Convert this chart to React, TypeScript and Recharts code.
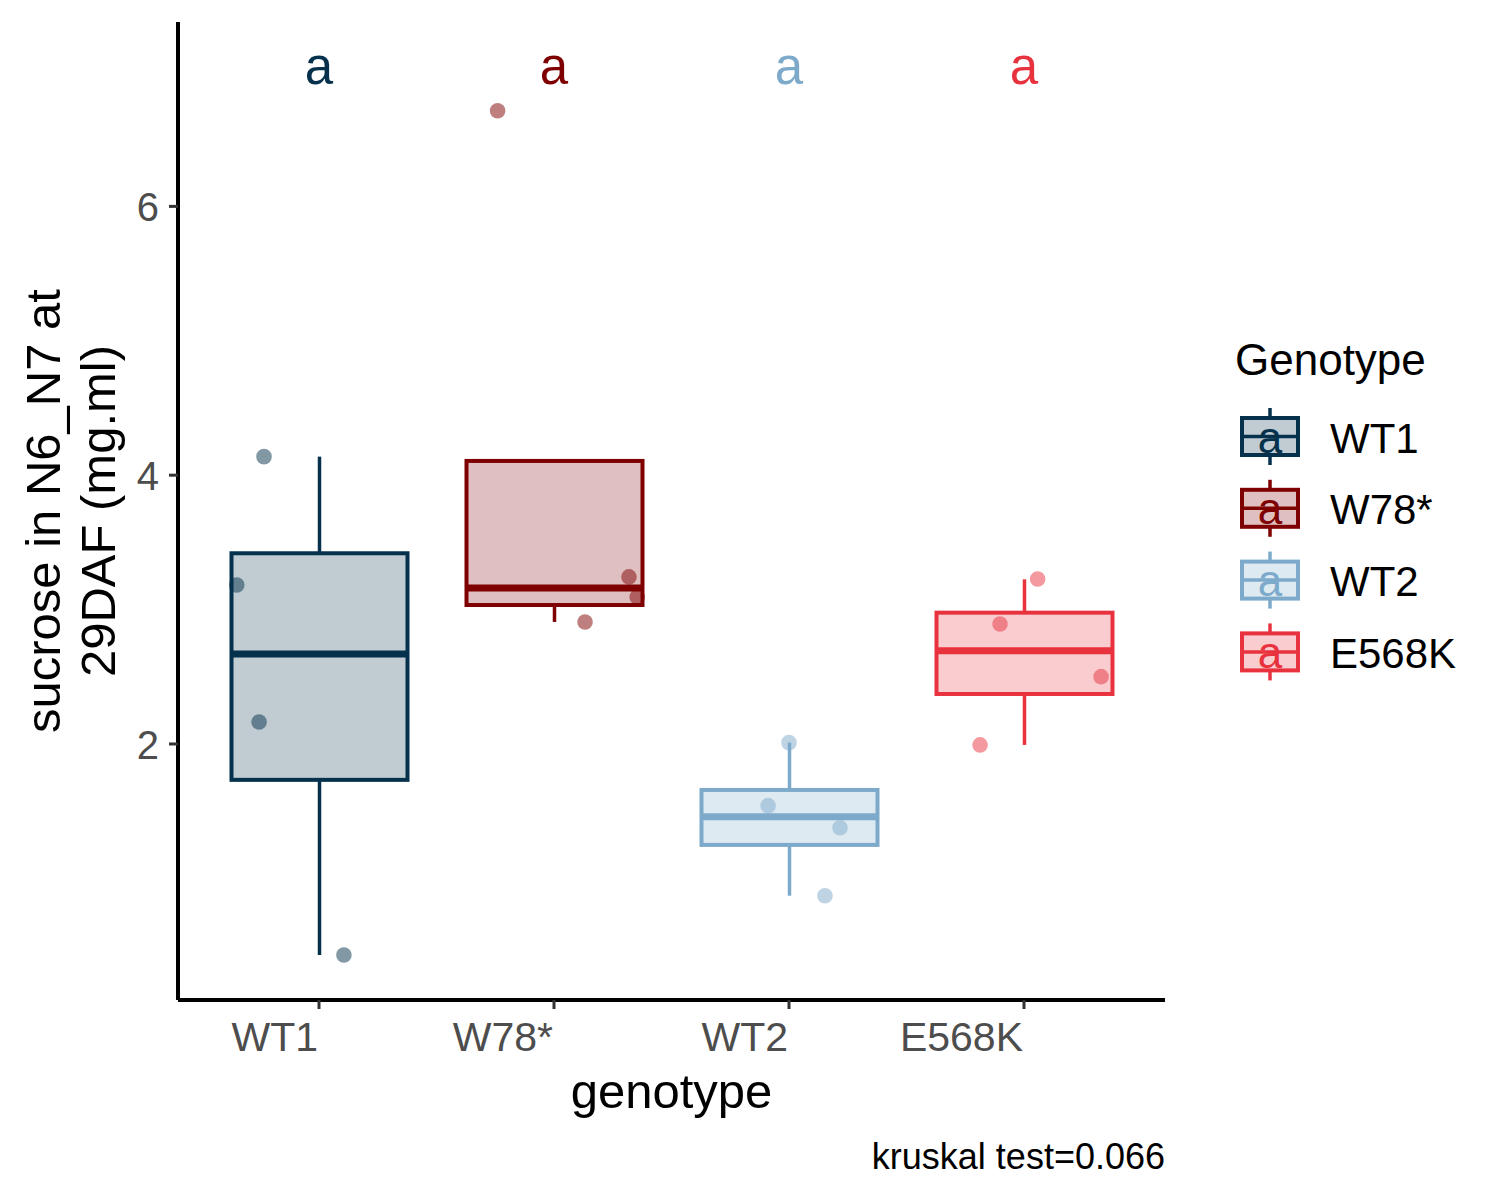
import React from 'react';
import { ComposedChart, Bar, Scatter, XAxis, YAxis } from 'recharts';

// genotype groups, in plotting order
const GENOTYPES = ['WT1', 'W78*', 'WT2', 'E568K'];
const COLORS = ['#05314C', '#7F0000', '#7DAACB', '#E8333F'];
const LETTERS = ['a', 'a', 'a', 'a'];
const LETTER_Y = 7.04;

// box statistics
const WHISKER_LOW = [0.43, 2.908, 0.871, 1.993];
const Q1 = [1.733, 3.034, 1.249, 2.372];
const MEDIAN = [2.67, 3.161, 1.459, 2.694];
const Q3 = [3.419, 4.106, 1.658, 2.977];
const WHISKER_HIGH = [4.138, 4.106, 2.01, 3.225];

// raw points + their horizontal jitter (in category units)
const POINT_VALUES = [
  [4.138, 3.183, 2.164, 0.43],
  [6.712, 3.243, 3.094, 2.908],
  [2.01, 1.541, 1.377, 0.871],
  [3.228, 2.893, 2.501, 1.993],
];
const POINT_JITTER = [
  [-0.234, -0.35, -0.255, 0.106],
  [-0.24, 0.319, 0.354, 0.132],
  [0.0, -0.089, 0.217, 0.153],
  [0.058, -0.102, 0.328, -0.187],
];

const Y_DOMAIN = [0.095, 7.372];
const Y_TICKS = [2, 4, 6];
const Y_TITLE = ['sucrose in N6_N7 at', '29DAF (mg.ml)'];
const X_TITLE = 'genotype';
const LEGEND_TITLE = 'Genotype';
const CAPTION = 'kruskal test=0.066';

const FONT = '"Liberation Sans", Arial, sans-serif';
const W = 1484;
const H = 1184;

const boxData = GENOTYPES.map((g, i) => ({
  genotype: g,
  lo: WHISKER_LOW[i],
  q1: Q1[i],
  median: MEDIAN[i],
  q3: Q3[i],
  hi: WHISKER_HIGH[i],
  color: COLORS[i],
}));

const pointData = GENOTYPES.map((_, i) =>
  POINT_VALUES[i].map((v, j) => ({ x: i + 1 + POINT_JITTER[i][j], y: v }))
);

const letterData = GENOTYPES.map((_, i) => ({
  x: i + 1,
  y: LETTER_Y,
  label: LETTERS[i],
  color: COLORS[i],
}));

const BoxShape = (props: any) => {
  const { x, y, width, height, payload } = props;
  const { lo, hi, q1, q3, median, color } = payload;
  const top = Math.min(y, y + height);
  const bottom = Math.max(y, y + height);
  const py = (v: number) => bottom - ((v - lo) / (hi - lo)) * (bottom - top);
  const cx = x + width / 2;
  return (
    <g>
      {hi > q3 && (
        <line x1={cx} x2={cx} y1={py(hi)} y2={py(q3)} stroke={color} strokeWidth={3.5} />
      )}
      {lo < q1 && (
        <line x1={cx} x2={cx} y1={py(q1)} y2={py(lo)} stroke={color} strokeWidth={3.5} />
      )}
      <rect
        x={x}
        y={py(q3)}
        width={width}
        height={py(q1) - py(q3)}
        fill={color}
        fillOpacity={0.25}
        stroke={color}
        strokeWidth={4}
      />
      <line
        x1={x}
        x2={x + width}
        y1={py(median)}
        y2={py(median)}
        stroke={color}
        strokeWidth={7}
      />
    </g>
  );
};

const XTick = ({ x, y, payload }: any) => (
  <text x={x - 1} y={y} dy={42} textAnchor="end" fontSize={41} fill="#4D4D4D" fontFamily={FONT}>
    {payload.value}
  </text>
);

const YTick = ({ x, y, payload }: any) => (
  <text x={x - 10} y={y} dy={15} textAnchor="end" fontSize={40} fill="#4D4D4D" fontFamily={FONT}>
    {payload.value}
  </text>
);

const XTitle = (props: any) => {
  const vb = props.viewBox || { x: 170, y: 992, width: 987, height: 60 };
  return (
    <text x={vb.x + vb.width / 2} y={vb.y + 108} textAnchor="middle" fontSize={49} fill="#000" fontFamily={FONT}>
      {X_TITLE}
    </text>
  );
};

const YTitle = (props: any) => {
  const vb = props.viewBox || { x: 0, y: 14, width: 170, height: 978 };
  const cy = vb.y + vb.height / 2;
  const xs = [vb.x + 52, vb.x + 107];
  return (
    <g>
      {Y_TITLE.map((t, i) => (
        <text
          key={t}
          x={xs[i]}
          y={cy}
          transform={`rotate(-90, ${xs[i]}, ${cy})`}
          textAnchor="middle"
          fontSize={49}
          fill="#000"
          fontFamily={FONT}
        >
          {t}
        </text>
      ))}
    </g>
  );
};

const PointShape = (color: string) => (props: any) => (
  <circle cx={props.cx} cy={props.cy} r={7.8} fill={color} fillOpacity={0.5} />
);

const LetterShape = (props: any) => (
  <text
    x={props.cx}
    y={props.cy}
    dy={17.5}
    textAnchor="middle"
    fontSize={51}
    fill={props.payload.color}
    fontFamily={FONT}
  >
    {props.payload.label}
  </text>
);

function LegendAndCaption() {
  const keyX = 1262;
  const rowTop = 428.5;
  const rowGap = 71.8;
  return (
    <svg
      width={W}
      height={H}
      style={{ position: 'absolute', left: 0, top: 0, pointerEvents: 'none' }}
    >
      <text x={1227} y={367} fontSize={44} fill="#000" fontFamily={FONT}>
        {LEGEND_TITLE}
      </text>
      {GENOTYPES.map((g, i) => {
        const cy = rowTop + i * rowGap;
        const c = COLORS[i];
        return (
          <g key={g}>
            <line x1={keyX} x2={keyX} y1={cy - 28.5} y2={cy + 28.5} stroke={c} strokeWidth={3.5} />
            <rect
              x={keyX - 28}
              y={cy - 18.5}
              width={56}
              height={37}
              fill="#fff"
              stroke="none"
            />
            <rect
              x={keyX - 28}
              y={cy - 18.5}
              width={56}
              height={37}
              fill={c}
              fillOpacity={0.25}
              stroke={c}
              strokeWidth={4}
            />
            <line x1={keyX - 28} x2={keyX + 28} y1={cy} y2={cy} stroke={c} strokeWidth={3.5} />
            <text x={keyX} y={cy} dy={16} textAnchor="middle" fontSize={44} fill={c} fontFamily={FONT}>
              {LETTERS[i]}
            </text>
            <text x={1322} y={cy} dy={16} fontSize={42} fill="#000" fontFamily={FONT}>
              {g}
            </text>
          </g>
        );
      })}
      <text x={1157} y={1161} textAnchor="end" fontSize={36} fill="#000" fontFamily={FONT}>
        {CAPTION}
      </text>
    </svg>
  );
}

export default function App() {
  return (
    <div style={{ position: 'relative', width: W, height: H, background: '#fff', fontFamily: FONT }}>
      <ComposedChart
        width={W}
        height={H}
        data={boxData}
        margin={{ top: 14, right: 327, bottom: 132, left: 0 }}
      >
        <XAxis
          xAxisId="cat"
          dataKey="genotype"
          type="category"
          padding={{ left: 23.5, right: 23.5 }}
          interval={0}
          height={60}
          tick={<XTick />}
          tickSize={9}
          tickMargin={0}
          tickLine={{ stroke: '#333', strokeWidth: 3 }}
          axisLine={{ stroke: '#000', strokeWidth: 4 }}
          label={{ value: X_TITLE, content: (p: any) => <XTitle {...p} /> }}
        />
        <XAxis
          xAxisId="num"
          dataKey="x"
          type="number"
          domain={[0.4, 4.6]}
          allowDataOverflow
          hide
        />
        <YAxis
          type="number"
          domain={Y_DOMAIN}
          ticks={Y_TICKS}
          allowDataOverflow
          width={170}
          tick={<YTick />}
          tickSize={9}
          tickMargin={0}
          tickLine={{ stroke: '#333', strokeWidth: 3 }}
          axisLine={{ stroke: '#000', strokeWidth: 4 }}
          label={{ value: Y_TITLE.join(' '), content: (p: any) => <YTitle {...p} /> }}
        />
        <Bar
          xAxisId="cat"
          dataKey={(d: any) => [d.lo, d.hi]}
          barSize={176}
          shape={<BoxShape />}
          isAnimationActive={false}
        />
        {pointData.map((pts, i) => (
          <Scatter
            key={GENOTYPES[i]}
            xAxisId="num"
            dataKey="y"
            data={pts}
            shape={PointShape(COLORS[i])}
            isAnimationActive={false}
          />
        ))}
        <Scatter
          xAxisId="num"
          dataKey="y"
          data={letterData}
          shape={LetterShape}
          isAnimationActive={false}
        />
      </ComposedChart>
      <LegendAndCaption />
    </div>
  );
}
